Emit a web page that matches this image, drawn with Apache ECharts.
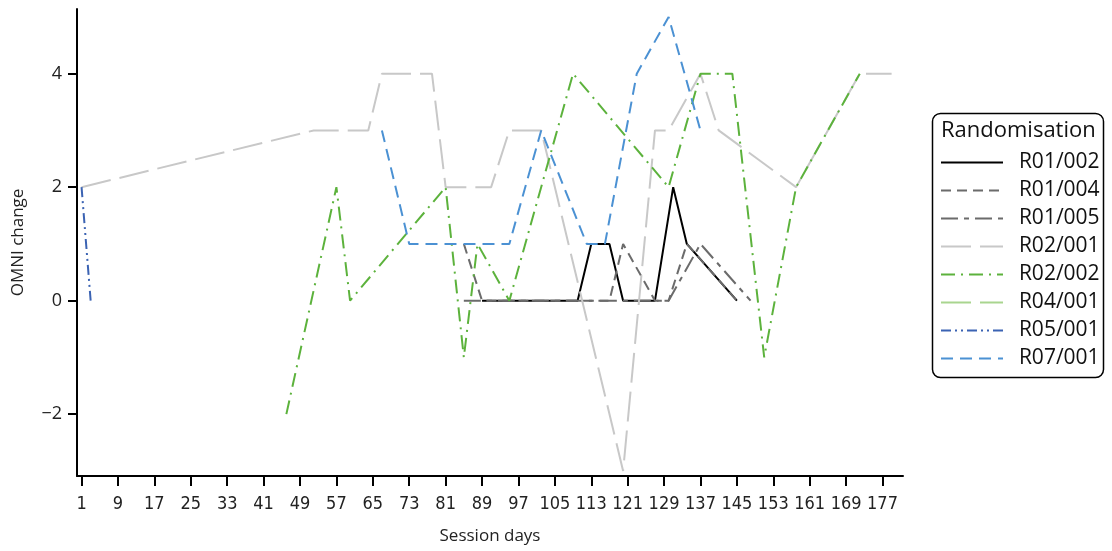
<!DOCTYPE html>
<html>
<head>
<meta charset="utf-8">
<script src="https://cdn.jsdelivr.net/npm/echarts@6/dist/echarts.min.js"></script>
<style>
html,body{margin:0;padding:0;background:#fff;}
#chart{width:1112px;height:551px;}
</style>
</head>
<body>
<div id="chart"></div>
<script>
// Tick labels
const xTicks = [1, 9, 17, 25, 33, 41, 49, 57, 65, 73, 81, 89, 97, 105, 113, 121, 129, 137, 145, 153, 161, 169, 177];
const yTicks = [-2, 0, 2, 4];

// Series: [session day, OMNI change]
const R01_002 = [[89, 0], [110, 0], [113, 1], [117, 1], [120, 0], [127, 0], [131, 2], [134, 1], [145, 0]];
const R01_004 = [[85, 1], [89, 0], [117, 0], [120, 1], [127, 0], [130, 0], [134, 1], [145, 0]];
const R01_005 = [[85, 0], [130, 0], [137, 1], [148, 0]];
const R02_001 = [[1, 2], [52, 3], [64, 3], [67, 4], [78, 4], [81, 2], [91, 2], [95, 3], [102, 3], [120, -3], [127, 3], [130, 3], [137, 4], [141, 3], [158, 2], [172, 4], [179, 4]];
const R02_002 = [[46, -2], [57, 2], [60, 0], [81, 2], [85, -1], [88, 1], [95, 0], [109, 4], [130, 2], [137, 4], [144, 4], [151, -1], [158, 2], [172, 4]];
const R04_001 = [[158, 2]];
const R05_001 = [[1, 2], [3, 0]];
const R07_001 = [[67, 3], [73, 1], [95, 1], [102, 3], [112, 1], [116, 1], [123, 4], [130, 5], [137, 3]];

const names = ['R01/002', 'R01/004', 'R01/005', 'R02/001', 'R02/002', 'R04/001', 'R05/001', 'R07/001'];
const datas = [R01_002, R01_004, R01_005, R02_001, R02_002, R04_001, R05_001, R07_001];
const colors = ['#000000', '#6b6b6b', '#6b6b6b', '#c8c8c8', '#5cb23c', '#a9d58f', '#3b63b3', '#4b91d3'];
const dashes = ['solid', [10, 6], [17, 6, 5, 6], [30, 9], [14, 6, 2, 6], [30, 9], [10, 4, 2, 4, 2, 4], [12, 7]];

const series = names.map((n, i) => ({
  name: n,
  type: 'line',
  data: datas[i],
  showSymbol: false,
  symbol: 'none',
  z: 2 + i,
  lineStyle: { color: colors[i], width: 2, type: dashes[i] },
  itemStyle: { color: colors[i] },
  animation: false
}));

const chart = echarts.init(document.getElementById('chart'));
chart.setOption({
  animation: false,
  backgroundColor: '#ffffff',
  grid: { left: 77, right: 209, top: 9, bottom: 75, containLabel: false },
  xAxis: {
    type: 'value',
    min: 0,
    max: 181.5,
    name: 'Session days',
    nameLocation: 'middle',
    nameGap: 52,
    nameTextStyle: { fontFamily: "'Open Sans', 'Noto Sans', sans-serif", fontSize: 17, color: '#222' },
    axisLine: { onZero: false, lineStyle: { color: '#000', width: 2 } },
    axisTick: { show: true, length: 10, lineStyle: { color: '#000', width: 2 }, customValues: xTicks },
    axisLabel: {
      customValues: xTicks,
      margin: 19,
      fontFamily: "'DejaVu Sans Condensed', 'Liberation Sans Narrow', sans-serif",
      fontSize: 18,
      color: '#222'
    },
    splitLine: { show: false }
  },
  yAxis: {
    type: 'value',
    min: -3.09,
    max: 5.14,
    name: 'OMNI change',
    nameLocation: 'middle',
    nameGap: 50,
    nameRotate: 90,
    nameTextStyle: { fontFamily: "'Open Sans', 'Noto Sans', sans-serif", fontSize: 17, color: '#222' },
    axisLine: { onZero: false, lineStyle: { color: '#000', width: 2 } },
    axisTick: { show: true, length: 9, lineStyle: { color: '#000', width: 2 }, customValues: yTicks },
    axisLabel: {
      customValues: yTicks,
      margin: 15,
      fontFamily: "'Open Sans', 'Noto Sans', sans-serif",
      fontSize: 18,
      color: '#222',
      formatter: v => String(v).replace('-', '\u2212')
    },
    splitLine: { show: false }
  },
  legend: {
    orient: 'vertical',
    left: 935,
    top: 147,
    itemWidth: 62,
    itemHeight: 14,
    itemGap: 7,
    itemStyle: { opacity: 0 },
    textStyle: {
      fontFamily: "'Open Sans', 'Noto Sans', sans-serif",
      fontSize: 21,
      color: '#111'
    },
    formatter: n => '  ' + n,
    data: names
  },
  graphic: [
    {
      type: 'rect',
      left: 930, top: 111,
      shape: { width: 171, height: 264, r: 8 },
      style: { fill: 'none', stroke: '#000', lineWidth: 1.5 },
      z: 100
    },
    {
      type: 'text',
      left: 941, top: 120,
      style: { text: 'Randomisation', font: "22px 'Open Sans', 'Noto Sans', sans-serif", fill: '#111' },
      z: 100
    }
  ],
  series: series
});
</script>
</body>
</html>
